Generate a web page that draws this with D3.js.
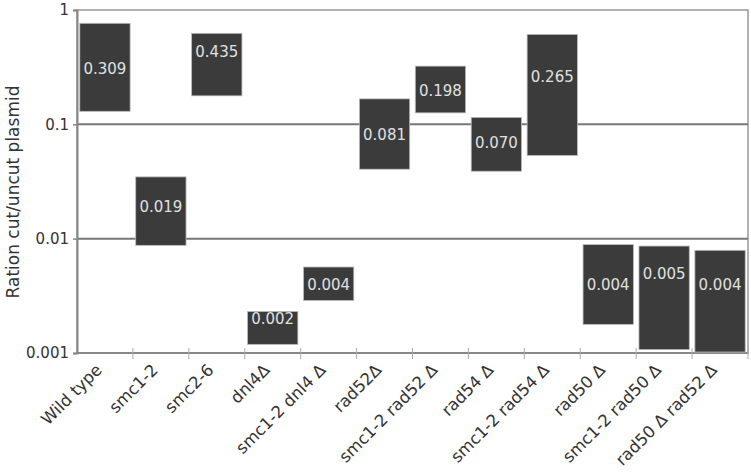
<!DOCTYPE html>
<html><head><meta charset="utf-8">
<script src="https://cdn.jsdelivr.net/npm/d3@7"></script>
<style>body{margin:0;background:#fff}svg{display:block}</style>
</head><body>
<script>
const categories = ["Wild type","smc1-2","smc2-6","dnl4\u0394","smc1-2 dnl4 \u0394","rad52\u0394","smc1-2 rad52 \u0394","rad54 \u0394","smc1-2 rad54 \u0394","rad50 \u0394","smc1-2 rad50 \u0394","rad50 \u0394 rad52 \u0394"];
const values = [0.309,0.019,0.435,0.002,0.004,0.081,0.198,0.070,0.265,0.004,0.005,0.004];
const highs = [0.765,0.0347,0.625,0.00231,0.00565,0.167,0.323,0.115,0.612,0.00887,0.00862,0.00791];
const lows = [0.130,0.00874,0.1775,0.00119,0.00288,0.0405,0.126,0.0389,0.0534,0.00178,0.00107,0.00102];
const yTicks = [1,0.1,0.01,0.001];
const yTickLabels = ["1","0.1","0.01","0.001"];

const W=751,H=476;
const m={left:77,right:3,top:10,bottom:123};
const svg=d3.select("body").append("svg").attr("width",W).attr("height",H);
const x=d3.scaleBand().domain(categories).range([m.left,W-m.right]).paddingInner(0.1).paddingOuter(0.05);
const xb=d3.scaleBand().domain(categories).range([m.left,W-m.right]);
const y=d3.scaleLog().domain([0.001,1]).range([H-m.bottom,m.top]);
const font="'DejaVu Sans', Verdana, sans-serif";

// frame
svg.append("rect").attr("x",m.left).attr("y",m.top).attr("width",W-m.right-m.left).attr("height",H-m.bottom-m.top)
  .attr("fill","none").attr("stroke","#999").attr("stroke-width",1.5);
// gridlines
svg.append("g").selectAll("line").data([0.1,0.01]).join("line")
  .attr("x1",m.left).attr("x2",W-m.right).attr("y1",d=>y(d)).attr("y2",d=>y(d))
  .attr("stroke","#777").attr("stroke-width",2);

// y axis
const yAxis=d3.axisLeft(y).tickValues(yTicks).tickFormat((d,i)=>yTickLabels[i]).tickSize(4).tickPadding(4);
const gy=svg.append("g").attr("transform",`translate(${m.left},0)`).call(yAxis);
gy.select(".domain").attr("stroke","#888").attr("stroke-width",2);
gy.selectAll(".tick line").attr("stroke","#888").attr("stroke-width",1.5);
gy.selectAll(".tick text").attr("font-family",font).attr("font-size",15).attr("fill","#333");

// x axis
const gx=svg.append("g").attr("transform",`translate(0,${H-m.bottom})`);
gx.append("line").attr("x1",m.left).attr("x2",W-m.right).attr("stroke","#888").attr("stroke-width",2);
gx.selectAll(".tk").data(categories).join("line").attr("class","tk")
  .attr("x1",d=>xb(d)+xb.bandwidth()).attr("x2",d=>xb(d)+xb.bandwidth())
  .attr("y1",-5).attr("y2",6).attr("stroke","#aaa").attr("stroke-width",1);
gx.selectAll("text").data(categories).join("text")
  .attr("transform",d=>`translate(${xb(d)+xb.bandwidth()/2-2},${18}) rotate(-45)`)
  .attr("text-anchor","end").attr("font-family",font).attr("font-size",16.5).attr("fill","#333")
  .text(d=>d);

// bars
svg.append("g").selectAll("rect").data(categories).join("rect")
  .attr("x",d=>x(d)).attr("width",x.bandwidth())
  .attr("y",(d,i)=>y(highs[i])).attr("height",(d,i)=>y(lows[i])-y(highs[i]))
  .attr("fill","#3b3b3b").attr("stroke","#bbb").attr("stroke-width",0.8);
svg.append("g").selectAll("text").data(categories).join("text")
  .attr("x",d=>x(d)+x.bandwidth()/2).attr("y",(d,i)=>y(values[i]))
  .attr("dy","0.38em").attr("text-anchor","middle")
  .attr("font-family",font).attr("font-size",15).attr("fill","#e0e0e0")
  .text((d,i)=>values[i].toFixed(3));

// y title
svg.append("text").attr("transform",`translate(19,${192}) rotate(-90)`).attr("text-anchor","middle")
  .attr("font-family",font).attr("font-size",17).attr("fill","#333").text("Ration cut/uncut plasmid");
</script>
</body></html>
